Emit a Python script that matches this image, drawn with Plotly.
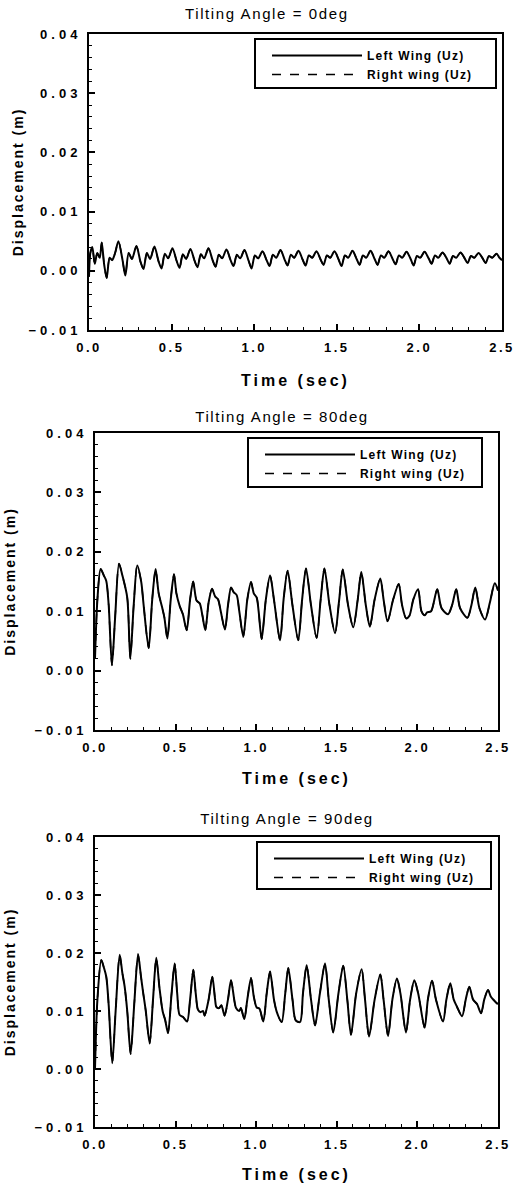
import plotly.graph_objects as go

# ---------------- data ----------------
titles = ["Tilting Angle = 0deg", "Tilting Angle = 80deg", "Tilting Angle = 90deg"]
series_names = ["Left Wing (Uz)", "Right wing (Uz)"]
x_ticks = [0.0, 0.5, 1.0, 1.5, 2.0, 2.5]
y_ticks = [-0.01, 0.0, 0.01, 0.02, 0.03, 0.04]

# Panel 1 (0 deg)
t_0deg = [0.000, 0.008, 0.020, 0.035, 0.050, 0.065, 0.077, 0.092, 0.107, 0.125, 0.140, 0.158,
          0.178, 0.203, 0.220, 0.240, 0.260,
          0.287, 0.312, 0.330, 0.350, 0.370,
          0.396, 0.421, 0.439, 0.459, 0.479,
          0.505, 0.530, 0.548, 0.568, 0.588,
          0.614, 0.639, 0.657, 0.677, 0.697,
          0.723, 0.748, 0.766, 0.786, 0.806,
          0.832, 0.857, 0.875, 0.895, 0.915,
          0.941, 0.966, 0.984, 1.004, 1.024,
          1.050, 1.075, 1.093, 1.113, 1.133,
          1.159, 1.184, 1.202, 1.222, 1.242,
          1.268, 1.293, 1.311, 1.331, 1.351,
          1.377, 1.402, 1.420, 1.440, 1.460,
          1.486, 1.511, 1.529, 1.549, 1.569,
          1.595, 1.620, 1.638, 1.658, 1.678,
          1.704, 1.729, 1.747, 1.767, 1.787,
          1.813, 1.838, 1.856, 1.876, 1.896,
          1.922, 1.947, 1.965, 1.985, 2.005,
          2.031, 2.056, 2.074, 2.094, 2.114,
          2.140, 2.165, 2.183, 2.203, 2.223,
          2.249, 2.274, 2.292, 2.312, 2.332,
          2.358, 2.383, 2.401, 2.421, 2.441,
          2.467, 2.485, 2.500]
u_left_0deg = [-0.0010, 0.0030, 0.0040, 0.0012, 0.0030, 0.0022, 0.0048, 0.0010, -0.0012, 0.0022, 0.0018, 0.0030,
               0.0050, 0.0018, -0.0008, 0.0030, 0.0020,
               0.0042, 0.0015, 0.0003, 0.0030, 0.0020,
               0.0041, 0.0016, 0.0004, 0.0029, 0.0021,
               0.0038, 0.0017, 0.0005, 0.0028, 0.0020,
               0.0037, 0.0017, 0.0006, 0.0028, 0.0021,
               0.0038, 0.0018, 0.0007, 0.0027, 0.0021,
               0.0036, 0.0018, 0.0008, 0.0027, 0.0021,
               0.0035, 0.0017, 0.0004, 0.0026, 0.0021,
               0.0033, 0.0018, 0.0008, 0.0027, 0.0022,
               0.0035, 0.0019, 0.0009, 0.0027, 0.0022,
               0.0034, 0.0019, 0.0009, 0.0026, 0.0022,
               0.0033, 0.0019, 0.0010, 0.0026, 0.0022,
               0.0033, 0.0019, 0.0008, 0.0026, 0.0022,
               0.0034, 0.0020, 0.0010, 0.0026, 0.0022,
               0.0034, 0.0020, 0.0010, 0.0026, 0.0022,
               0.0033, 0.0020, 0.0011, 0.0026, 0.0022,
               0.0032, 0.0020, 0.0009, 0.0025, 0.0022,
               0.0032, 0.0021, 0.0012, 0.0026, 0.0022,
               0.0031, 0.0021, 0.0012, 0.0025, 0.0022,
               0.0031, 0.0021, 0.0013, 0.0025, 0.0022,
               0.0030, 0.0021, 0.0013, 0.0025, 0.0022,
               0.0029, 0.0022, 0.0018]
u_right_0deg = list(u_left_0deg)

# Panel 2 (80 deg)
t_80deg = [0.000, 0.015, 0.035, 0.055, 0.070, 0.085, 0.105, 0.125, 0.149, 0.170, 0.200, 0.219,
           0.240, 0.262, 0.287, 0.300, 0.333, 0.355, 0.376, 0.395, 0.416, 0.430, 0.449,
           0.470, 0.490, 0.505, 0.525, 0.545, 0.569, 0.590, 0.609, 0.630, 0.650, 0.665, 0.684,
           0.705, 0.726, 0.745, 0.763, 0.780, 0.806, 0.825, 0.844, 0.860, 0.879, 0.895, 0.920,
           0.945, 0.968, 0.985, 1.003, 1.015, 1.034, 1.060, 1.086, 1.110, 1.148, 1.170, 1.195,
           1.225, 1.261, 1.285, 1.309, 1.340, 1.375, 1.400, 1.423, 1.455, 1.489, 1.515, 1.537,
           1.570, 1.602, 1.630, 1.652, 1.680, 1.705, 1.735, 1.770, 1.790, 1.815, 1.850, 1.884,
           1.905, 1.930, 1.950, 1.975, 2.004, 2.025, 2.045, 2.060, 2.085, 2.123, 2.150, 2.190,
           2.215, 2.241, 2.265, 2.310, 2.335, 2.359, 2.385, 2.420, 2.450, 2.480, 2.500]
u_left_80deg = [0.0020, 0.0120, 0.0171, 0.0160, 0.0151, 0.0110, 0.0009, 0.0090, 0.0180, 0.0160, 0.0123, 0.0020,
                0.0110, 0.0177, 0.0149, 0.0115, 0.0038, 0.0120, 0.0171, 0.0130, 0.0107, 0.0090, 0.0054,
                0.0120, 0.0162, 0.0130, 0.0109, 0.0095, 0.0068, 0.0120, 0.0150, 0.0118, 0.0113, 0.0095, 0.0068,
                0.0115, 0.0138, 0.0125, 0.0120, 0.0100, 0.0069, 0.0110, 0.0140, 0.0132, 0.0127, 0.0100, 0.0057,
                0.0120, 0.0149, 0.0130, 0.0123, 0.0100, 0.0053, 0.0120, 0.0160, 0.0120, 0.0051, 0.0120, 0.0168,
                0.0110, 0.0051, 0.0120, 0.0172, 0.0110, 0.0055, 0.0120, 0.0172, 0.0110, 0.0063, 0.0120, 0.0170,
                0.0110, 0.0073, 0.0120, 0.0166, 0.0110, 0.0074, 0.0120, 0.0155, 0.0120, 0.0083, 0.0120, 0.0146,
                0.0110, 0.0088, 0.0092, 0.0120, 0.0137, 0.0100, 0.0093, 0.0098, 0.0100, 0.0137, 0.0105, 0.0095,
                0.0110, 0.0137, 0.0105, 0.0089, 0.0110, 0.0140, 0.0105, 0.0086, 0.0115, 0.0147, 0.0135]
u_right_80deg = list(u_left_80deg)

# Panel 3 (90 deg)
t_90deg = [0.000, 0.015, 0.039, 0.055, 0.070, 0.085, 0.107, 0.128, 0.153, 0.170, 0.184, 0.200, 0.221,
           0.243, 0.267, 0.285, 0.298, 0.315, 0.339, 0.360, 0.380, 0.400, 0.420, 0.435, 0.453,
           0.475, 0.494, 0.510, 0.525, 0.545, 0.571, 0.590, 0.610, 0.625, 0.639, 0.655, 0.670, 0.680,
           0.705, 0.728, 0.745, 0.753, 0.770, 0.784, 0.804, 0.825, 0.844, 0.875, 0.895, 0.905, 0.926,
           0.945, 0.968, 0.985, 1.003, 1.020, 1.044, 1.065, 1.086, 1.110, 1.127, 1.158, 1.180, 1.199,
           1.225, 1.245, 1.272, 1.290, 1.313, 1.340, 1.365, 1.395, 1.427, 1.450, 1.478, 1.510, 1.540,
           1.565, 1.588, 1.620, 1.654, 1.675, 1.700, 1.735, 1.770, 1.790, 1.818, 1.845, 1.873, 1.895,
           1.929, 1.955, 1.981, 2.005, 2.045, 2.065, 2.091, 2.115, 2.159, 2.180, 2.204, 2.225, 2.246,
           2.277, 2.300, 2.322, 2.345, 2.370, 2.395, 2.415, 2.438, 2.455, 2.473, 2.494, 2.500]
u_left_90deg = [0.0000, 0.0120, 0.0188, 0.0175, 0.0159, 0.0110, 0.0010, 0.0100, 0.0197, 0.0165, 0.0142, 0.0100, 0.0026,
                0.0110, 0.0198, 0.0160, 0.0133, 0.0100, 0.0044, 0.0120, 0.0192, 0.0140, 0.0099, 0.0085, 0.0062,
                0.0130, 0.0182, 0.0130, 0.0093, 0.0090, 0.0082, 0.0120, 0.0171, 0.0130, 0.0102, 0.0098, 0.0100, 0.0092,
                0.0120, 0.0159, 0.0120, 0.0107, 0.0105, 0.0110, 0.0092, 0.0120, 0.0153, 0.0105, 0.0100, 0.0105, 0.0086,
                0.0120, 0.0157, 0.0125, 0.0106, 0.0104, 0.0082, 0.0130, 0.0168, 0.0120, 0.0099, 0.0081, 0.0130, 0.0174,
                0.0120, 0.0084, 0.0081, 0.0130, 0.0179, 0.0120, 0.0075, 0.0130, 0.0182, 0.0120, 0.0063, 0.0130, 0.0178,
                0.0120, 0.0059, 0.0130, 0.0172, 0.0120, 0.0056, 0.0120, 0.0163, 0.0120, 0.0057, 0.0120, 0.0156, 0.0130,
                0.0063, 0.0120, 0.0153, 0.0130, 0.0071, 0.0120, 0.0152, 0.0120, 0.0082, 0.0120, 0.0148, 0.0120, 0.0107,
                0.0091, 0.0120, 0.0142, 0.0120, 0.0112, 0.0096, 0.0120, 0.0136, 0.0125, 0.0119, 0.0113, 0.0113]
u_right_90deg = list(u_left_90deg)

panels = [
    (t_0deg, u_left_0deg, u_right_0deg),
    (t_80deg, u_left_80deg, u_right_80deg),
    (t_90deg, u_left_90deg, u_right_90deg),
]

# ---------------- layout geometry (pixels) ----------------
W, H = 516, 1183
plot_boxes = [  # (left, right, top, bottom) in px
    (89, 502, 34, 330),
    (95, 498, 433, 730),
    (95, 498, 837, 1127),
]
legend_boxes = [(255, 496, 39, 88), (248, 482, 438, 487), (257, 491, 842, 889)]
title_pos = [(267, 14), (282, 417), (287, 818)]
ytitle_standoff = [22, 36, 36]
xtitle_standoff = [21, 19, 20]

FONT = "Liberation Sans, Arial, sans-serif"

fig = go.Figure()
for i, (t, ul, ur) in enumerate(panels):
    sfx = "" if i == 0 else str(i + 1)
    leg = "legend" if i == 0 else f"legend{i + 1}"
    fig.add_trace(go.Scatter(x=t, y=ul, mode="lines", name=series_names[0],
                             line=dict(color="black", width=2, shape="spline", smoothing=0.8),
                             xaxis="x" + sfx, yaxis="y" + sfx, legend=leg))
    fig.add_trace(go.Scatter(x=t, y=ur, mode="lines", name=series_names[1],
                             line=dict(color="black", width=1.5, dash="dash", shape="spline", smoothing=0.8),
                             xaxis="x" + sfx, yaxis="y" + sfx, legend=leg))

layout = dict(
    width=W, height=H,
    margin=dict(l=0, r=0, t=0, b=0),
    paper_bgcolor="white", plot_bgcolor="white",
    font=dict(family=FONT, color="black"),
    showlegend=True,
)
annotations = []
shapes = []
for i, (l, r, top, bot) in enumerate(plot_boxes):
    sfx = "" if i == 0 else str(i + 1)
    xa = dict(domain=[l / W, r / W], range=[0, 2.5], anchor="y" + sfx, automargin=False,
              tickvals=x_ticks, tickformat=".1f",
              ticks="inside", ticklen=6, tickwidth=1.5, tickcolor="black",
              minor=dict(dtick=0.1, ticks="inside", ticklen=3, tickcolor="black", tickwidth=1),
              showline=True, linewidth=2, linecolor="black", mirror=True,
              showgrid=False, zeroline=False,
              ticklabelstandoff=4,
              tickfont=dict(family=FONT, size=13, weight="bold"),
              title=dict(text="Time (sec)", font=dict(family=FONT, size=16, weight="bold"),
                         standoff=xtitle_standoff[i]))
    ya = dict(domain=[1 - bot / H, 1 - top / H], range=[-0.01, 0.04], anchor="x" + sfx, automargin=False,
              tickvals=y_ticks, tickformat=".2f",
              ticks="inside", ticklen=6, tickwidth=1.5, tickcolor="black",
              minor=dict(dtick=0.002, ticks="inside", ticklen=3, tickcolor="black", tickwidth=1),
              showline=True, linewidth=2, linecolor="black", mirror=True,
              showgrid=False, zeroline=False,
              ticklabelstandoff=3,
              tickfont=dict(family=FONT, size=13, weight="bold"),
              title=dict(text="Displacement (m)", font=dict(family=FONT, size=14, weight="bold"),
                         standoff=ytitle_standoff[i]))
    layout["xaxis" + sfx] = xa
    layout["yaxis" + sfx] = ya
    bx0, bx1, by0, by1 = legend_boxes[i]
    layout["legend" if i == 0 else f"legend{i + 1}"] = dict(
        x=(bx0 + 12) / W, y=1 - (by0 + 2) / H, xanchor="left", yanchor="top",
        borderwidth=0, bgcolor="rgba(0,0,0,0)",
        font=dict(family=FONT, size=12, weight="bold"),
        itemwidth=90, tracegroupgap=0)
    shapes.append(dict(type="rect", xref="paper", yref="paper",
                       x0=bx0 / W, x1=bx1 / W, y0=1 - by1 / H, y1=1 - by0 / H,
                       line=dict(color="black", width=2), fillcolor="rgba(0,0,0,0)"))
    tx, ty = title_pos[i]
    annotations.append(dict(text=titles[i], x=tx / W, y=1 - ty / H, xref="paper", yref="paper",
                            xanchor="center", yanchor="middle", showarrow=False,
                            font=dict(family=FONT, size=15)))
layout["annotations"] = annotations
layout["shapes"] = shapes
fig.update_layout(**layout)

# page without body margin; widen letter spacing of texts like the original typesetting,
# then let plotly re-measure the legend texts
post = """
document.body.style.margin = '0';
document.body.style.padding = '0';
var st = document.createElement('style');
st.textContent = [
  '.xaxislayer-above text { letter-spacing: 2.5px; }',
  '.yaxislayer-above text { letter-spacing: 4px; }',
  'text.xtitle, text.x2title, text.x3title { letter-spacing: 3px; }',
  'text.ytitle, text.y2title, text.y3title { letter-spacing: 2px; }',
  '.annotation-text { letter-spacing: 1.6px; }',
  'g.legend text, g.legend2 text, g.legend3 text, .legendtext { letter-spacing: 1.2px; }'
].join('\\n');
document.head.appendChild(st);
var gd = document.getElementById('{plot_id}');
Plotly.relayout(gd, {'legend.font.size': 12.01, 'legend2.font.size': 12.01, 'legend3.font.size': 12.01});
"""
fig.write_html("out.html", post_script=post, config={"displayModeBar": False})
